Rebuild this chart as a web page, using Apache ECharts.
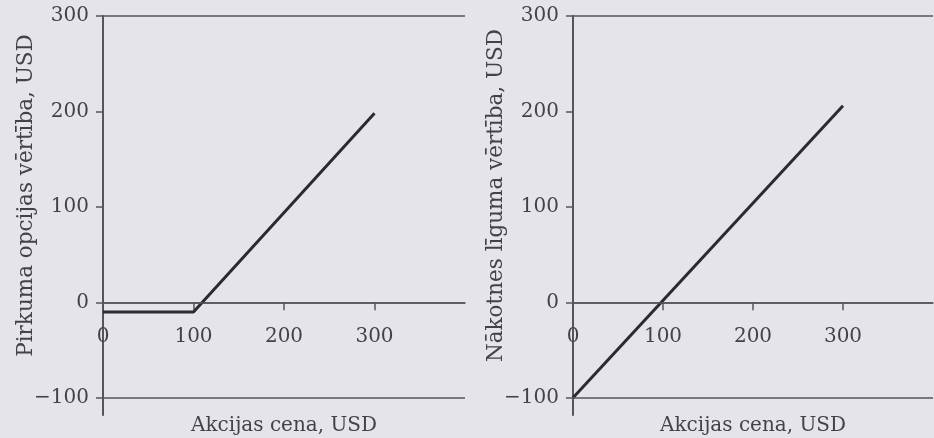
<!DOCTYPE html>
<html>
<head>
<meta charset="utf-8">
<script src="https://cdn.jsdelivr.net/npm/echarts@6/dist/echarts.min.js"></script>
<style>
  html, body { margin: 0; padding: 0; background: #e5e4ea; }
  #main { width: 934px; height: 438px; }
</style>
</head>
<body>
<div id="main"></div>
<script>
// kreisais: pirkuma opcija, labais: nākotnes līgums
var callPrice = [0, 100, 300];
var callValue = [-10, -10, 198];
var futPrice = [0, 300];
var futValue = [-100, 206];
var yTicks = [-100, 0, 100, 200, 300];
var xLabels = [0, 100, 200, 300];
var xTicks = [100, 200, 300];
var refLines = [300, 0, -100];

var axisColor = '#55555b';
var textColor = '#424248';
var font = 'DejaVu Serif';

var myChart = echarts.init(document.getElementById('main'));

function yAx(idx, name) {
  return {
    type: 'value',
    gridIndex: idx,
    min: -118,
    max: 300,
    name: name,
    nameLocation: 'middle',
    nameGap: 66,
    nameMoveOverlap: false,
    nameTextStyle: { color: textColor, fontSize: 21.5, fontFamily: font, padding: [0, 0, 0, 40] },
    axisLine: { show: true, onZero: false, lineStyle: { color: axisColor, width: 2 } },
    axisTick: { show: true, length: 7, customValues: yTicks, lineStyle: { color: axisColor, width: 1.5 } },
    axisLabel: {
      customValues: yTicks, margin: 14, color: textColor, fontSize: 20, fontFamily: font,
      formatter: function (v) { return String(v).replace('-', '\u2212'); }
    },
    splitLine: { show: false }
  };
}

function xAx(idx) {
  return {
    type: 'value',
    gridIndex: idx,
    min: 0,
    max: 400,
    name: 'Akcijas cena, USD',
    nameLocation: 'middle',
    nameGap: 1,
    nameTextStyle: { color: textColor, fontSize: 20, fontFamily: font },
    axisLine: { show: true, onZero: true, lineStyle: { color: axisColor, width: 1.5 } },
    axisTick: { show: true, length: 8, customValues: xTicks, lineStyle: { color: axisColor, width: 1.5 } },
    axisLabel: { customValues: xLabels, margin: -88, color: textColor, fontSize: 20, fontFamily: font },
    splitLine: { show: false }
  };
}

function refMark() {
  return {
    silent: true,
    symbol: 'none',
    label: { show: false },
    lineStyle: { color: axisColor, width: 1.5, type: 'solid' },
    data: refLines.map(function (v) { return { yAxis: v }; })
  };
}

option = {
  backgroundColor: '#e5e4ea',
  animation: false,
  grid: [
    { left: 103, right: 469, top: 16, bottom: 23, outerBoundsMode: 'none', containLabel: false },
    { left: 573, right: 1, top: 16, bottom: 23, outerBoundsMode: 'none', containLabel: false }
  ],
  xAxis: [xAx(0), xAx(1)],
  yAxis: [
    yAx(0, 'Pirkuma opcijas vērtība, USD'),
    yAx(1, 'Nākotnes līguma vērtība, USD')
  ],
  series: [
    {
      type: 'line',
      xAxisIndex: 0,
      yAxisIndex: 0,
      symbol: 'none',
      lineStyle: { color: '#2b2b2e', width: 3 },
      data: callPrice.map(function (p, i) { return [p, callValue[i]]; }),
      markLine: refMark()
    },
    {
      type: 'line',
      xAxisIndex: 1,
      yAxisIndex: 1,
      symbol: 'none',
      lineStyle: { color: '#2b2b2e', width: 3 },
      data: futPrice.map(function (p, i) { return [p, futValue[i]]; }),
      markLine: refMark()
    }
  ]
};

if (option && typeof option === 'object') {
  myChart.setOption(option, true);
}
</script>
</body>
</html>
